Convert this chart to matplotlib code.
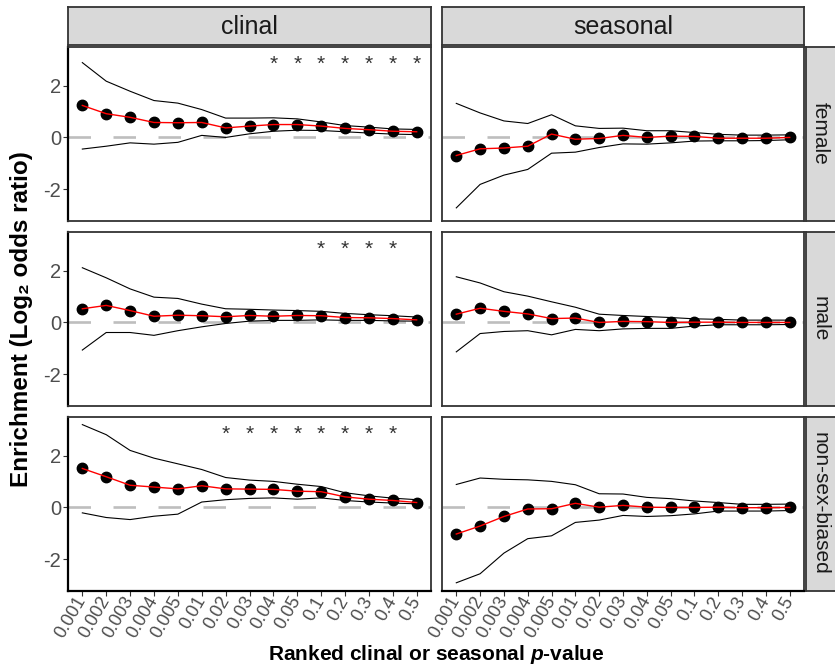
import numpy as np
import matplotlib.pyplot as plt

plt.rcParams['font.family'] = ['Liberation Sans', 'DejaVu Sans']
plt.rcParams['mathtext.fontset'] = 'custom'
plt.rcParams['mathtext.it'] = 'Liberation Sans:italic:bold'
plt.rcParams['mathtext.rm'] = 'Liberation Sans:bold'
plt.rcParams['lines.scale_dashes'] = False

pvals = ["0.001", "0.002", "0.003", "0.004", "0.005", "0.01", "0.02", "0.03",
         "0.04", "0.05", "0.1", "0.2", "0.3", "0.4", "0.5"]
tests = ["clinal", "seasonal"]
sexes = ["female", "male", "non-sex-biased"]

# log2 odds ratio estimate, lower and upper bounds
clinal_female_est = [1.24, 0.92, 0.78, 0.58, 0.57, 0.58, 0.37, 0.44, 0.50, 0.50, 0.44, 0.35, 0.30, 0.24, 0.22]
clinal_female_lo = [-0.45, -0.34, -0.21, -0.26, -0.19, 0.08, 0.00, 0.14, 0.24, 0.28, 0.27, 0.22, 0.17, 0.13, 0.11]
clinal_female_hi = [2.90, 2.18, 1.79, 1.43, 1.33, 1.08, 0.75, 0.75, 0.76, 0.72, 0.60, 0.46, 0.40, 0.33, 0.31]

seasonal_female_est = [-0.70, -0.44, -0.41, -0.34, 0.13, -0.07, -0.04, 0.08, 0.00, 0.05, 0.04, -0.03, -0.03, -0.03, 0.00]
seasonal_female_lo = [-2.73, -1.82, -1.46, -1.24, -0.61, -0.57, -0.39, -0.25, -0.26, -0.21, -0.14, -0.13, -0.13, -0.12, -0.09]
seasonal_female_hi = [1.32, 0.95, 0.64, 0.54, 0.88, 0.45, 0.35, 0.36, 0.26, 0.26, 0.19, 0.12, 0.09, 0.09, 0.10]

clinal_male_est = [0.53, 0.66, 0.46, 0.24, 0.28, 0.26, 0.22, 0.27, 0.24, 0.27, 0.26, 0.19, 0.18, 0.15, 0.10]
clinal_male_lo = [-1.07, -0.39, -0.39, -0.50, -0.32, -0.17, -0.04, 0.05, 0.08, 0.08, 0.10, 0.08, 0.08, 0.06, 0.05]
clinal_male_hi = [2.12, 1.73, 1.30, 0.98, 0.93, 0.71, 0.53, 0.51, 0.48, 0.46, 0.43, 0.35, 0.30, 0.26, 0.21]

seasonal_male_est = [0.32, 0.55, 0.43, 0.33, 0.15, 0.17, 0.00, 0.04, 0.03, 0.00, 0.01, 0.01, 0.00, 0.00, 0.00]
seasonal_male_lo = [-1.14, -0.43, -0.35, -0.32, -0.48, -0.27, -0.32, -0.25, -0.23, -0.23, -0.14, -0.09, -0.09, -0.09, -0.08]
seasonal_male_hi = [1.77, 1.53, 1.19, 1.02, 0.80, 0.59, 0.32, 0.27, 0.23, 0.19, 0.14, 0.12, 0.09, 0.09, 0.09]

clinal_nsb_est = [1.51, 1.19, 0.86, 0.79, 0.72, 0.84, 0.72, 0.71, 0.70, 0.63, 0.61, 0.41, 0.32, 0.27, 0.19]
clinal_nsb_lo = [-0.21, -0.39, -0.47, -0.34, -0.26, 0.21, 0.30, 0.35, 0.37, 0.32, 0.37, 0.27, 0.21, 0.17, 0.14]
clinal_nsb_hi = [3.21, 2.82, 2.21, 1.91, 1.69, 1.47, 1.16, 1.06, 1.01, 0.90, 0.81, 0.57, 0.45, 0.36, 0.30]

seasonal_nsb_est = [-1.03, -0.72, -0.35, -0.06, -0.05, 0.16, 0.01, 0.08, 0.01, 0.00, 0.00, 0.01, -0.01, -0.01, 0.00]
seasonal_nsb_lo = [-2.92, -2.57, -1.77, -1.21, -1.10, -0.58, -0.49, -0.31, -0.35, -0.32, -0.25, -0.14, -0.14, -0.14, -0.12]
seasonal_nsb_hi = [0.89, 1.14, 1.09, 1.07, 1.01, 0.88, 0.53, 0.52, 0.39, 0.34, 0.25, 0.19, 0.12, 0.12, 0.13]

# p-value bins marked significant
clinal_female_stars = ["0.04", "0.05", "0.1", "0.2", "0.3", "0.4", "0.5"]
clinal_male_stars = ["0.1", "0.2", "0.3", "0.4"]
clinal_nsb_stars = ["0.02", "0.03", "0.04", "0.05", "0.1", "0.2", "0.3", "0.4"]

data = {
    ("clinal", "female"): (clinal_female_est, clinal_female_lo, clinal_female_hi, clinal_female_stars),
    ("seasonal", "female"): (seasonal_female_est, seasonal_female_lo, seasonal_female_hi, []),
    ("clinal", "male"): (clinal_male_est, clinal_male_lo, clinal_male_hi, clinal_male_stars),
    ("seasonal", "male"): (seasonal_male_est, seasonal_male_lo, seasonal_male_hi, []),
    ("clinal", "non-sex-biased"): (clinal_nsb_est, clinal_nsb_lo, clinal_nsb_hi, clinal_nsb_stars),
    ("seasonal", "non-sex-biased"): (seasonal_nsb_est, seasonal_nsb_lo, seasonal_nsb_hi, []),
}
star_y = 2.82

W, H = 835, 670
fig = plt.figure(figsize=(W / 100, H / 100), dpi=100)


def rect(x0, y0, x1, y1):
    return [x0 / W, 1 - y1 / H, (x1 - x0) / W, (y1 - y0) / H]


col_x = [(68, 431), (442, 804)]
row_y = [(46.7, 220.7), (231.7, 405.7), (416.7, 590.7)]

all_lo = min(min(v[1]) for v in data.values())
all_hi = max(max(v[2]) for v in data.values())
pad = 0.05 * (all_hi - all_lo)
ylim = (all_lo - pad, all_hi + pad)

x = np.arange(len(pvals))
border = '#333333'

for r, sex in enumerate(sexes):
    for c, test in enumerate(tests):
        est, lo, hi, stars = data[(test, sex)]
        ax = fig.add_axes(rect(col_x[c][0], row_y[r][0], col_x[c][1], row_y[r][1]))
        ax.axhline(0, color='#BEBEBE', lw=1.9, dashes=(16.2, 16.2), zorder=1)
        ax.plot(x, lo, color='black', lw=0.8, zorder=2)
        ax.plot(x, hi, color='black', lw=0.8, zorder=2)
        ax.plot(x, est, 'o', color='black', ms=7.5, zorder=3)
        ax.plot(x, est, color='red', lw=1.0, zorder=4)
        for s in stars:
            ax.text(pvals.index(s), star_y, '*', ha='center', va='center',
                    fontsize=15, color=border)
        ax.set_xlim(-0.6, len(pvals) - 0.4)
        ax.set_ylim(*ylim)
        for sp in ax.spines.values():
            sp.set_color(border)
            sp.set_linewidth(1.3)
        ax.tick_params(length=3.6, width=0.8, color=border, pad=1.5)
        ax.set_xticks(x)
        ax.set_yticks([-2, 0, 2])
        if c == 0:
            ax.spines['left'].set_color('black')
            ax.spines['left'].set_linewidth(1.6)
            ax.set_yticklabels(["-2", "0", "2"], fontsize=14.5, color='#4D4D4D')
        else:
            ax.tick_params(axis='y', left=False, labelleft=False)
        if r == len(sexes) - 1:
            ax.spines['bottom'].set_color('black')
            ax.spines['bottom'].set_linewidth(1.6)
            ax.set_xticklabels(pvals, rotation=60, ha='right', va='center',
                               rotation_mode='anchor', fontsize=13, color='#4D4D4D')
        else:
            ax.tick_params(axis='x', bottom=False, labelbottom=False)

# strips
for c, test in enumerate(tests):
    sa = fig.add_axes(rect(col_x[c][0], 7.3, col_x[c][1], 45.3))
    sa.set_facecolor('#D9D9D9')
    sa.set_xticks([]); sa.set_yticks([])
    for sp in sa.spines.values():
        sp.set_color(border); sp.set_linewidth(1.3)
    sa.text(0.5, 0.48, test, transform=sa.transAxes, ha='center', va='center',
            fontsize=18, color='#1A1A1A')

for r, sex in enumerate(sexes):
    sa = fig.add_axes(rect(806, row_y[r][0], 837, row_y[r][1]))
    sa.set_facecolor('#D9D9D9')
    sa.set_xticks([]); sa.set_yticks([])
    for sp in sa.spines.values():
        sp.set_color(border); sp.set_linewidth(1.3)
    sa.text(14.5 / 31, 0.5, sex, transform=sa.transAxes, ha='center', va='center',
            rotation=-90, fontsize=15, color='#1A1A1A')

fig.text(436 / W, 1 - 655 / H, "Ranked clinal or seasonal $p$-value",
         ha='center', va='center', fontsize=15, fontweight='bold')
fig.text(22 / W, 1 - 318.7 / H, "Enrichment (Log\u2082 odds ratio)", rotation=90,
         ha='center', va='center', fontsize=17.5, fontweight='bold')

fig.savefig("out.png", dpi=100)
